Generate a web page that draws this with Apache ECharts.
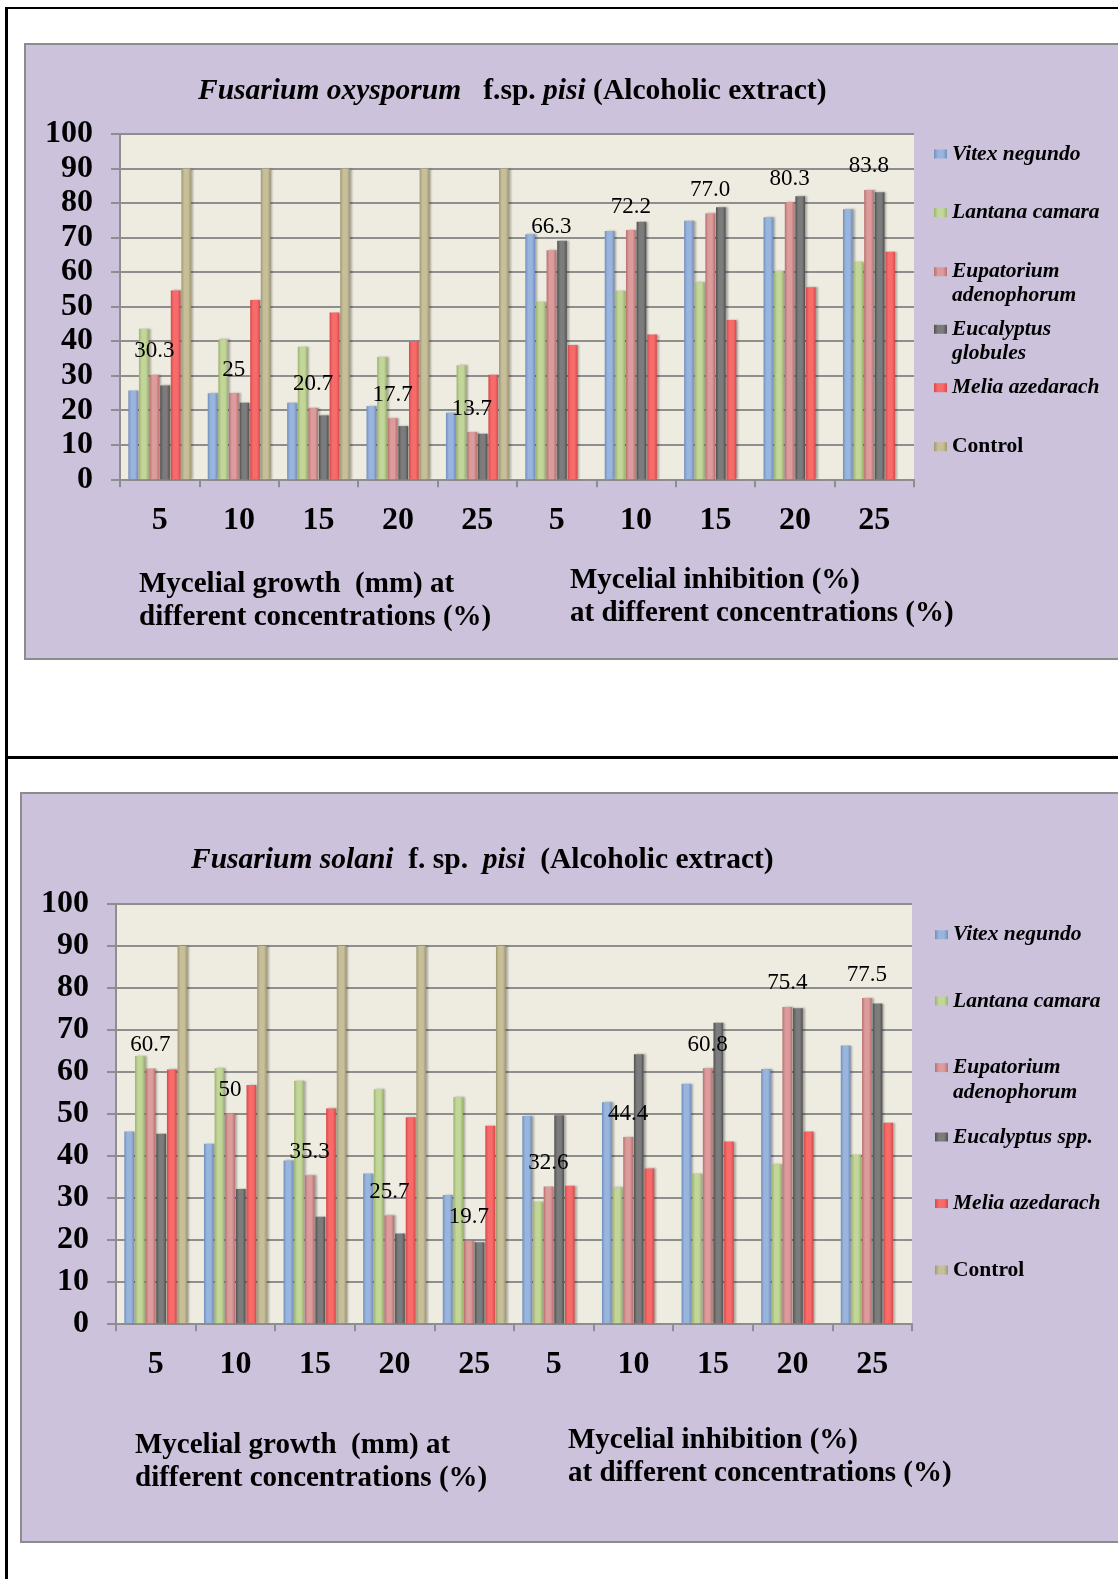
<!DOCTYPE html>
<html><head><meta charset="utf-8">
<script src="https://cdn.jsdelivr.net/npm/echarts@6/dist/echarts.min.js"></script>
<style>
html,body{margin:0;padding:0;background:#fff;overflow:hidden}
#wrap{position:relative;width:1118px;height:1579px}
.fr{position:absolute;background:#000}
.panel{position:absolute;background:#CCC2DB;border:2px solid #8c8c8c;box-sizing:border-box}
#c{position:absolute;left:0;top:0;width:1118px;height:1579px}
</style>
</head><body>
<div id="wrap">
  <div class="fr" style="left:5px;top:7px;width:1113px;height:2px"></div>
  <div class="fr" style="left:5px;top:7px;width:2.5px;height:1572px"></div>
  <div class="fr" style="left:5px;top:756px;width:1113px;height:2.5px"></div>
  <div class="panel" style="left:24px;top:43px;width:1120px;height:617px"></div>
  <div class="panel" style="left:20px;top:792px;width:1120px;height:751px"></div>
  <div id="c"></div>
</div>
<script>
// ---------- data ----------
const categories = ['5','10','15','20','25','5','10','15','20','25'];

const topNames = ['Vitex negundo','Lantana camara','Eupatorium adenophorum','Eucalyptus globules','Melia azedarach','Control'];
const topVitex      = [25.7,24.9,22.2,21.2,19.3,71.0,71.9,74.9,75.9,78.2];
const topLantana    = [43.6,40.5,38.4,35.4,33.0,51.4,54.6,57.0,60.3,63.0];
const topEupatorium = [30.3,25,20.7,17.7,13.7,66.3,72.2,77.0,80.3,83.8];
const topEupLabels  = ['30.3','25','20.7','17.7','13.7','66.3','72.2','77.0','80.3','83.8'];
const topEucalyptus = [27.2,22.2,18.5,15.4,13.2,69.1,74.6,78.8,82.0,83.1];
const topMelia      = [54.7,51.9,48.3,39.9,30.3,38.9,41.9,46.1,55.6,65.9];
const topControl    = [90,90,90,90,90,null,null,null,null,null];

const botNames = ['Vitex negundo','Lantana camara','Eupatorium adenophorum','Eucalyptus spp.','Melia azedarach','Control'];
const botVitex      = [45.7,42.8,38.8,35.7,30.6,49.4,52.7,57.1,60.6,66.2];
const botLantana    = [63.7,60.8,57.8,55.8,53.9,29.0,32.4,35.7,37.9,40.2];
const botEupatorium = [60.7,50,35.3,25.7,19.7,32.6,44.4,60.8,75.4,77.5];
const botEupLabels  = ['60.7','50','35.3','25.7','19.7','32.6','44.4','60.8','75.4','77.5'];
const botEucalyptus = [45.2,32.0,25.4,21.4,19.3,49.6,64.1,71.6,75.1,76.2];
const botMelia      = [60.5,56.8,51.2,49.1,47.1,32.8,36.9,43.3,45.7,47.8];
const botControl    = [90,90,90,90,90,null,null,null,null,null];

// ---------- styles ----------
const SERIF = "'Liberation Serif','Times New Roman',serif";
const palette = [
  ['#6f8fc0','#9ab5dd'],
  ['#9cb36d','#c3d69a'],
  ['#b86f6f','#dc9c9c'],
  ['#505050','#7c7c7c'],
  ['#d84848','#f76b6b'],
  ['#a09870','#c6bf99']
];
function grad(c){
  return new echarts.graphic.LinearGradient(0,0,1,0,[
    {offset:0,color:c[0]},{offset:0.3,color:c[1]},{offset:0.7,color:c[1]},{offset:1,color:c[0]}
  ]);
}
const GRIDC = '#8e8e8e';

function makeSeries(names, datas, labels, axisIdx){
  return datas.map((d,i)=>({
    type:'bar', name:names[i], data:d, xAxisIndex:axisIdx, yAxisIndex:axisIdx,
    barGap:'10%', barCategoryGap:'21%',
    itemStyle:{color:grad(palette[i]), shadowColor:'rgba(0,0,0,0.3)', shadowBlur:2, shadowOffsetX:2},
    label: i===2 ? {show:true, position:'top', distance:12, fontFamily:SERIF, fontSize:23, color:'#000',
      formatter:p=>labels[p.dataIndex]} : {show:false},
    emphasis:{disabled:true}
  }));
}

const legendText = {
  'Eupatorium adenophorum':'\u00a0\nEupatorium\nadenophorum',
  'Eucalyptus globules':'\u00a0\nEucalyptus\nglobules'
};
function makeLegends(names, left, centers, lh){
  return names.map((n,i)=>{
    const multi = !!legendText[n];
    const h = multi ? lh*3 : lh;
    return {
      data:[n], left:left, top:centers[i]-h/2, padding:0, orient:'vertical',
      icon:'rect', itemWidth:13, itemHeight:9,
      formatter:name=>legendText[name]||name,
      textStyle:{fontFamily:SERIF, fontSize:21.5, fontWeight:'bold', fontStyle: n==='Control'?'normal':'italic', color:'#000', lineHeight:lh}
    };
  });
}

function axisPair(gridIdx){
  return {
    x:{type:'category', gridIndex:gridIdx, data:categories,
       axisLine:{show:true, lineStyle:{color:GRIDC, width:2}},
       axisTick:{show:true, length:8, lineStyle:{color:GRIDC, width:2}},
       axisLabel:{fontFamily:SERIF, fontWeight:'bold', fontSize:32, color:'#000', margin:25, lineHeight:32, interval:0},
       splitLine:{show:false}},
    y:{type:'value', gridIndex:gridIdx, min:0, max:100, interval:10,
       axisLine:{show:true, lineStyle:{color:GRIDC, width:2}},
       axisTick:{show:true, length:9, lineStyle:{color:GRIDC, width:2}},
       axisLabel:{fontFamily:SERIF, fontWeight:'bold', fontSize:32, color:'#000', margin:27},
       splitLine:{show:true, lineStyle:{color:GRIDC, width:2}}}
  };
}
const a0 = axisPair(0), a1 = axisPair(1);

const titleRich = {
  i:{fontFamily:SERIF, fontWeight:'bold', fontStyle:'italic', fontSize:29.5, lineHeight:34, color:'#000'},
  b:{fontFamily:SERIF, fontWeight:'bold', fontStyle:'normal', fontSize:29.5, lineHeight:34, color:'#000'}
};

function txt(x,y,s){
  return {type:'text', x:x, y:y, z:100, style:{text:s, font:"bold 29px 'Liberation Serif'", fill:'#000', textVerticalAlign:'middle', textAlign:'left'}};
}

const option = {
  animation:false,
  backgroundColor:'transparent',
  title:[
    {left:198, top:74, padding:0, text:'{i|Fusarium oxysporum}{b|   f.sp. }{i|pisi}{b| (Alcoholic extract)}', textStyle:{rich:titleRich}},
    {left:191, top:843, padding:0, text:'{i|Fusarium solani}{b|  f. sp.  }{i|pisi}{b|  (Alcoholic extract)}', textStyle:{rich:titleRich}}
  ],
  grid:[
    {left:120, top:134, width:794, height:345.3, show:true, backgroundColor:'#EEEBE0', borderWidth:0, containLabel:false},
    {left:116, top:903.7, width:796, height:419.6, show:true, backgroundColor:'#EEEBE0', borderWidth:0, containLabel:false}
  ],
  xAxis:[a0.x, a1.x],
  yAxis:[a0.y, a1.y],
  legend: makeLegends(topNames, 934, [154,212.7,271.7,329.3,387.7,446.7], 24)
    .concat(makeLegends(botNames, 935, [934.7,1001,1067.6,1137,1203.6,1270], 25)),
  graphic:[
    txt(139,585,'Mycelial growth  (mm) at'),
    txt(139,618,'different concentrations (%)'),
    txt(570,581,'Mycelial inhibition (%)'),
    txt(570,614,'at different concentrations (%)'),
    txt(135,1445.5,'Mycelial growth  (mm) at'),
    txt(135,1479,'different concentrations (%)'),
    txt(568,1440.5,'Mycelial inhibition (%)'),
    txt(568,1474,'at different concentrations (%)')
  ],
  series: makeSeries(topNames,[topVitex,topLantana,topEupatorium,topEucalyptus,topMelia,topControl],topEupLabels,0)
    .concat(makeSeries(botNames,[botVitex,botLantana,botEupatorium,botEucalyptus,botMelia,botControl],botEupLabels,1))
};
const chart = echarts.init(document.getElementById('c'), null, {renderer:'canvas'});
chart.setOption(option);
</script>
</body></html>
